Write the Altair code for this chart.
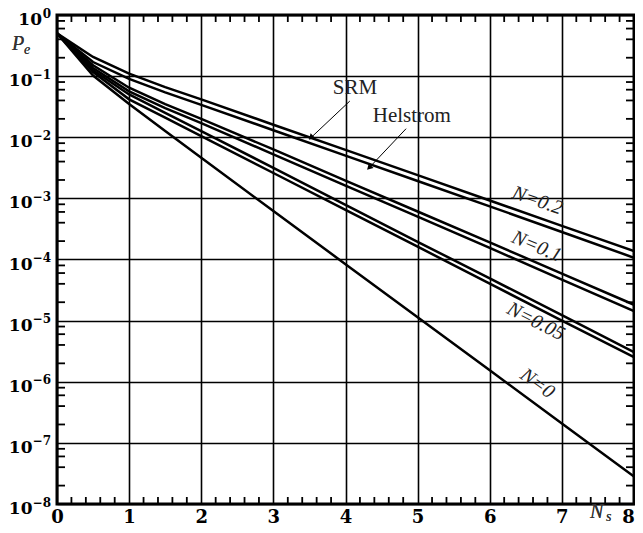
import altair as alt
import pandas as pd

# ---------------- data ----------------
ns = [0, 0.5, 1, 1.5, 2, 3, 4, 5, 6, 7, 8]

pe_n02_srm = [0.5, 0.2056, 0.1096, 0.0661, 0.0417, 0.01603, 0.00622, 0.0024, 9.23e-4, 3.55e-4, 1.374e-4]
pe_n02_hel = [0.5, 0.1702, 0.0902, 0.0543, 0.0339, 0.01303, 0.00501, 0.001928, 7.41e-4, 2.82e-4, 1.069e-4]
pe_n01_srm = [0.5, 0.1503, 0.0646, 0.0347, 0.01995, 0.00631, 0.00195, 6.10e-4, 1.905e-4, 5.89e-5, 1.82e-5]
pe_n01_hel = [0.5, 0.1358, 0.0562, 0.02985, 0.01698, 0.00525, 0.00162, 5.01e-4, 1.55e-4, 4.68e-5, 1.43e-5]
pe_n005_srm = [0.5, 0.1245, 0.0501, 0.0251, 0.01259, 0.00316, 7.82e-4, 1.95e-4, 4.90e-5, 1.23e-5, 3.05e-6]
pe_n005_hel = [0.5, 0.1167, 0.0417, 0.0209, 0.01047, 0.0026, 6.46e-4, 1.62e-4, 4.03e-5, 1.0e-5, 2.53e-6]
pe_n0 = [0.5, 0.1025, 0.0350, 0.01261, 0.0046, 6.20e-4, 8.39e-5, 1.135e-5, 1.536e-6, 2.08e-7, 2.81e-8]

series_names = ["N=0.2 SRM", "N=0.2 Helstrom", "N=0.1 SRM", "N=0.1 Helstrom",
                "N=0.05 SRM", "N=0.05 Helstrom", "N=0"]
series_values = [pe_n02_srm, pe_n02_hel, pe_n01_srm, pe_n01_hel,
                 pe_n005_srm, pe_n005_hel, pe_n0]

x_tick_values = [0, 1, 2, 3, 4, 5, 6, 7, 8]
x_minor_ticks = [i / 5 for i in range(41) if i % 5 != 0]
y_tick_values = [1, 1e-1, 1e-2, 1e-3, 1e-4, 1e-5, 1e-6, 1e-7, 1e-8]
y_tick_base = "10"
y_tick_exponents = ["0", "−1", "−2", "−3", "−4", "−5", "−6", "−7", "−8"]
y_minor_ticks = [m * 10.0 ** (-k) for k in range(1, 9) for m in (2, 4, 6, 8)]

curve_labels = ["N=0.2", "N=0.1", "N=0.05", "N=0"]
curve_label_x = [6.66, 6.65, 6.64, 6.66]
curve_label_y = [9.2e-4, 1.64e-4, 9.7e-6, 9.4e-7]
curve_label_angle = [19, 23, 27, 36]

ann_text = ["SRM", "Helstrom"]
ann_text_x = [4.13, 4.92]
ann_text_y = [0.0645, 0.0224]
arrow_x_start = [4.06, 4.84]
arrow_y_start = [0.0391, 0.0138]
arrow_x_end = [3.53, 4.337]
arrow_y_end = [0.01007, 0.00325]

# ---------------- tables ----------------
rows = []
for name, vals in zip(series_names, series_values):
    for x, p in zip(ns, vals):
        rows.append({"series": name, "Ns": x, "Pe": p})
df = pd.DataFrame(rows)

df_xminor = pd.DataFrame({"Ns": x_minor_ticks})
df_yminor = pd.DataFrame({"Pe": y_minor_ticks})
df_ylab = pd.DataFrame({"Pe": y_tick_values, "exp": y_tick_exponents})
df_labels = pd.DataFrame({"text": curve_labels, "Ns": curve_label_x,
                          "Pe": curve_label_y, "angle": curve_label_angle})
df_ann = pd.DataFrame({"text": ann_text, "Ns": ann_text_x, "Pe": ann_text_y})
df_arrows = pd.DataFrame({"Ns": arrow_x_start, "Pe": arrow_y_start,
                          "Ns2": arrow_x_end, "Pe2": arrow_y_end})

# ---------------- scales / axes ----------------
W, H = 577, 489
x_scale = alt.Scale(domain=[0, 8], nice=False, zero=False)
y_scale = alt.Scale(type="log", domain=[1e-8, 1], nice=False)

x_axis = alt.Axis(values=x_tick_values, grid=True, gridColor="black", gridWidth=1.6,
                  gridOpacity=1, ticks=False, tickSize=0, domain=False,
                  labelFont="DejaVu Serif", labelFontWeight="bold", labelFontSize=18,
                  labelColor="black", labelPadding=4, labelFlush=False,
                  labelOffset={"condition": {"test": "datum.value == 8", "value": -6}, "value": 0},
                  labelOverlap=False, title=None)
y_axis = alt.Axis(values=y_tick_values, grid=True, gridColor="black", gridWidth=1.6,
                  gridOpacity=1, ticks=False, tickSize=0, domain=False,
                  labels=False, title=None)

X = alt.X("Ns:Q", scale=x_scale, axis=x_axis)
Y = alt.Y("Pe:Q", scale=y_scale, axis=y_axis)

lines = alt.Chart(df).mark_line(color="black", strokeWidth=2.5, clip=True).encode(
    x=X, y=Y, detail="series:N")

tick_style = dict(color="black", strokeWidth=1.8)
yminor_left = alt.Chart(df_yminor).mark_rule(**tick_style).encode(
    y=Y, x=alt.value(0), x2=alt.value(8))
yminor_right = alt.Chart(df_yminor).mark_rule(**tick_style).encode(
    y=Y, x=alt.value(W - 8), x2=alt.value(W))
xminor_bottom = alt.Chart(df_xminor).mark_rule(**tick_style).encode(
    x=X, y=alt.value(H), y2=alt.value(H - 7))
xminor_top = alt.Chart(df_xminor).mark_rule(**tick_style).encode(
    x=X, y=alt.value(0), y2=alt.value(7))

# y tick labels: "10" with a raised exponent
lab_font = dict(font="DejaVu Serif", fontWeight="bold", color="black",
                align="right", baseline="alphabetic")
ten_zero = alt.Chart(df_ylab).transform_filter(alt.datum.exp == "0").mark_text(
    fontSize=17, dx=-9, dy=10, **lab_font).encode(
    y=Y, x=alt.value(-6), text=alt.value(y_tick_base))
ten_neg = alt.Chart(df_ylab).transform_filter(alt.datum.exp != "0").mark_text(
    fontSize=17, dx=-18.5, dy=10, **lab_font).encode(
    y=Y, x=alt.value(-6), text=alt.value(y_tick_base))
exps = alt.Chart(df_ylab).mark_text(fontSize=12, dy=2.5, **lab_font).encode(
    y=Y, x=alt.value(-6), text="exp:N")

curve_text = alt.Chart(df_labels).mark_text(
    font="Liberation Serif", fontStyle="italic", fontSize=20, color="#222",
    align="center", baseline="middle").encode(
    x=X, y=Y, text="text:N", angle=alt.Angle("angle:Q", scale=None))

ann = alt.Chart(df_ann).mark_text(
    font="Liberation Serif", fontSize=21, color="#222",
    align="center", baseline="middle").encode(x=X, y=Y, text="text:N")

arrow_lines = alt.Chart(df_arrows).mark_rule(color="black", strokeWidth=1).encode(
    x=X, y=Y, x2="Ns2:Q", y2="Pe2:Q")
arrow_heads = alt.Chart(df_arrows).mark_point(
    shape="triangle", angle=225, filled=True, color="black", size=45, opacity=1).encode(
    x=alt.X("Ns2:Q", scale=x_scale, axis=x_axis), y=alt.Y("Pe2:Q", scale=y_scale, axis=y_axis))

title_font = dict(font="Liberation Serif", fontStyle="italic", color="#333",
                  align="left", baseline="alphabetic")
pe_title = alt.Chart(df_ann).mark_text(fontSize=20, **title_font).encode(
    x=alt.value(-45), y=alt.value(35), text=alt.value("P"))
pe_sub = alt.Chart(df_ann).mark_text(fontSize=14, **title_font).encode(
    x=alt.value(-33), y=alt.value(39), text=alt.value("e"))
ns_title = alt.Chart(df_ann).mark_text(fontSize=20, **title_font).encode(
    x=alt.value(533), y=alt.value(503), text=alt.value("N"))
ns_sub = alt.Chart(df_ann).mark_text(fontSize=14, **title_font).encode(
    x=alt.value(549), y=alt.value(506), text=alt.value("s"))

chart = alt.layer(
    lines, yminor_left, yminor_right, xminor_bottom, xminor_top,
    ten_zero, ten_neg, exps,
    curve_text, ann, arrow_lines, arrow_heads,
    pe_title, pe_sub, ns_title, ns_sub
).properties(
    width=W, height=H,
    autosize=alt.AutoSizeParams(type="none"),
    padding={"left": 49, "top": 7, "right": 1, "bottom": 21},
    background="white",
).configure_view(stroke="black", strokeWidth=3)

chart.save("out.html", embed_options={"renderer": "svg", "actions": False})
